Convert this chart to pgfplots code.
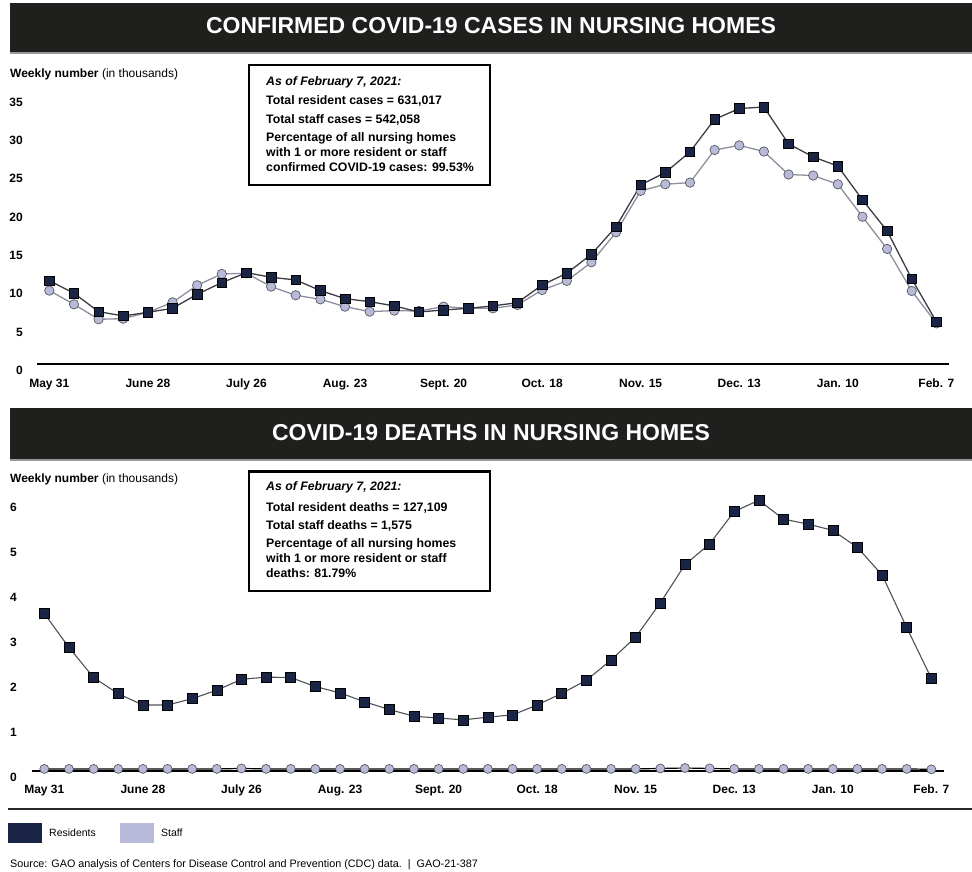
\documentclass[border=0pt]{standalone}
\usepackage{pgfplots}
\pgfplotsset{compat=1.18}
\usepackage{pgfplotstable}
\usepackage{fontspec}
\setmainfont{Liberation Sans}

\definecolor{barblack}{HTML}{1F1F1D}
\definecolor{navy}{HTML}{1A2444}
\definecolor{lav}{HTML}{B7BAD8}
\definecolor{resline}{HTML}{3C3C44}
\definecolor{staffline}{HTML}{8E8E9E}

% weekly confirmed cases, thousands (week 0 = May 31, 2020)
\pgfplotstableread{
wk res staff
0 10.87 9.57
1 9.22 7.78
2 6.83 5.83
3 6.26 5.91
4 6.74 6.74
5 7.26 8.04
6 9.09 10.26
7 10.61 11.74
8 11.91 11.83
9 11.30 10.09
10 10.96 8.96
11 9.57 8.43
12 8.52 7.48
13 8.13 6.83
14 7.57 6.96
15 6.78 6.91
16 7.04 7.48
17 7.26 7.26
18 7.57 7.26
19 8.00 7.70
20 10.30 9.65
21 11.83 10.83
22 14.30 13.26
23 17.90 17.17
24 23.35 22.57
25 24.96 23.43
26 27.65 23.65
27 31.90 27.90
28 33.30 28.50
29 33.50 27.70
30 28.70 24.70
31 27.00 24.57
32 25.80 23.43
33 21.40 19.20
34 17.35 15.00
35 11.10 9.52
36 5.50 5.30
}\casestable

% weekly deaths, thousands
\pgfplotstableread{
wk res staff
0 3.49 0.04
1 2.74 0.04
2 2.07 0.04
3 1.71 0.04
4 1.46 0.04
5 1.46 0.04
6 1.60 0.04
7 1.79 0.04
8 2.03 0.05
9 2.08 0.04
10 2.07 0.04
11 1.87 0.04
12 1.73 0.04
13 1.53 0.04
14 1.36 0.04
15 1.21 0.04
16 1.17 0.04
17 1.13 0.04
18 1.19 0.04
19 1.24 0.04
20 1.46 0.04
21 1.72 0.04
22 2.01 0.04
23 2.46 0.04
24 2.97 0.04
25 3.73 0.05
26 4.58 0.06
27 5.04 0.05
28 5.76 0.04
29 6.01 0.04
30 5.59 0.04
31 5.48 0.04
32 5.34 0.04
33 4.96 0.04
34 4.35 0.04
35 3.18 0.04
36 2.05 0.03
}\deathstable

\pgfplotsset{
  gaochart/.style={
    scale only axis,
    width=911.7pt,
    xmin=-0.5, xmax=36.5, ymin=0,
    clip=false,
    axis x line=bottom, axis y line=left,
    y axis line style={draw=none},
    major tick length=0pt,
    xtick={0,4,...,36},
    xticklabels={May 31, June 28, July 26, Aug. 23, Sept. 20, Oct. 18, Nov. 15, Dec. 13, Jan. 10, Feb. 7},
    tick label style={font=\fontsize{12}{14}\selectfont\bfseries},
    xticklabel style={anchor=base, inner sep=0pt, yshift=-23pt},
    yticklabel style={anchor=base east, inner sep=0pt},
    /pgf/number format/assume math mode=true,
  },
}

\newcommand{\boxfont}{\fontsize{12.3}{14}\selectfont\bfseries}

\begin{document}
\begin{tikzpicture}
\path[use as bounding box] (0pt,0pt) rectangle (972pt,-871pt);

% ---------- top panel ----------
\fill[black!40] (10pt,-51pt) rectangle (972pt,-53.5pt);
\fill[barblack] (10pt,-3.3pt) rectangle (972pt,-51.7pt);
\node[anchor=base, text=white, inner sep=0pt, font=\fontsize{23}{26}\selectfont\bfseries]
  at (491pt,-33.3pt) {CONFIRMED COVID-19 CASES IN NURSING HOMES};

\node[anchor=base west, inner sep=0pt, font=\fontsize{12}{14}\selectfont]
  at (10pt,-77pt) {\textbf{Weekly number} (in thousands)};

\begin{axis}[gaochart,
  at={(37pt,-364pt)}, anchor=south west,
  height=268.5pt, ymax=35,
  ytick={0,5,...,35},
  x axis line style={-, line width=2.6pt, black},
  yticklabel style={xshift=-14pt, yshift=-10.7pt},
]
\addplot[staffline, line width=1.3pt, mark=*, mark size=4.7pt,
  mark options={fill=lav, draw=resline!85, line width=0.7pt}]
  table[x=wk, y=staff]{\casestable};
\addplot[resline, line width=1.3pt, mark=square*, mark size=4.8pt,
  mark options={fill=navy, draw=black, line width=0.6pt}]
  table[x=wk, y=res]{\casestable};
\end{axis}

\fill[white] (249pt,-65pt) rectangle (490pt,-185pt);
\draw[line width=2.7pt] (249pt,-65pt) rectangle (490pt,-185pt);
\begin{scope}[every node/.style={anchor=base west, inner sep=0pt, font=\boxfont}]
\node at (266pt,-85.1pt) {\itshape As of February 7, 2021:};
\node at (266pt,-104.4pt) {Total resident cases = 631,017};
\node at (266pt,-123.4pt) {Total staff cases = 542,058};
\node at (266pt,-141.7pt) {Percentage of all nursing homes};
\node at (266pt,-156.7pt) {with 1 or more resident or staff};
\node at (266pt,-171.7pt) {confirmed COVID-19 cases: 99.53\%};
\end{scope}

% ---------- bottom panel ----------
\fill[black!40] (10pt,-458pt) rectangle (972pt,-460.5pt);
\fill[barblack] (10pt,-408pt) rectangle (972pt,-459pt);
\node[anchor=base, text=white, inner sep=0pt, font=\fontsize{23}{26}\selectfont\bfseries]
  at (491pt,-440pt) {COVID-19 DEATHS IN NURSING HOMES};

\node[anchor=base west, inner sep=0pt, font=\fontsize{12}{14}\selectfont]
  at (10pt,-482.3pt) {\textbf{Weekly number} (in thousands)};

\begin{axis}[gaochart,
  at={(32pt,-770.7pt)}, anchor=south west,
  height=279pt, ymax=6.2,
  ytick={0,1,...,6},
  x axis line style={-, line width=2.2pt, black},
  yticklabel style={xshift=-15pt, yshift=-10.3pt},
]
\addplot[black, line width=1.2pt, mark=*, mark size=4.5pt,
  mark options={fill=lav, draw=resline!85, line width=0.7pt}]
  table[x=wk, y=staff]{\deathstable};
\addplot[resline!90, line width=1.1pt, mark=square*, mark size=5pt,
  mark options={fill=navy, draw=black, line width=0.6pt}]
  table[x=wk, y=res]{\deathstable};
\end{axis}

\fill[white] (249pt,-471.7pt) rectangle (490pt,-591pt);
\draw[line width=2.7pt] (249pt,-471.7pt) rectangle (490pt,-591pt);
\begin{scope}[every node/.style={anchor=base west, inner sep=0pt, font=\boxfont}]
\node at (266pt,-490.4pt) {\itshape As of February 7, 2021:};
\node at (266pt,-511.1pt) {Total resident deaths = 127,109};
\node at (266pt,-529.4pt) {Total staff deaths = 1,575};
\node at (266pt,-547.7pt) {Percentage of all nursing homes};
\node at (266pt,-562.7pt) {with 1 or more resident or staff};
\node at (266pt,-577.7pt) {deaths: 81.79\%};
\end{scope}

% ---------- legend and source ----------
\draw[line width=2pt, black!85] (8pt,-809pt) -- (972pt,-809pt);
\fill[navy] (8pt,-823pt) rectangle (42pt,-843pt);
\node[anchor=base west, inner sep=0pt, font=\fontsize{10.5}{12}\selectfont] at (49pt,-836.8pt) {Residents};
\fill[lav] (120pt,-823pt) rectangle (154pt,-843pt);
\node[anchor=base west, inner sep=0pt, font=\fontsize{10.5}{12}\selectfont] at (161pt,-836.8pt) {Staff};
\node[anchor=base west, inner sep=0pt, font=\fontsize{10.8}{12}\selectfont] at (10pt,-867.8pt)
  {Source: GAO analysis of Centers for Disease Control and Prevention (CDC) data.\ \ |\ \ GAO-21-387};
\end{tikzpicture}
\end{document}
